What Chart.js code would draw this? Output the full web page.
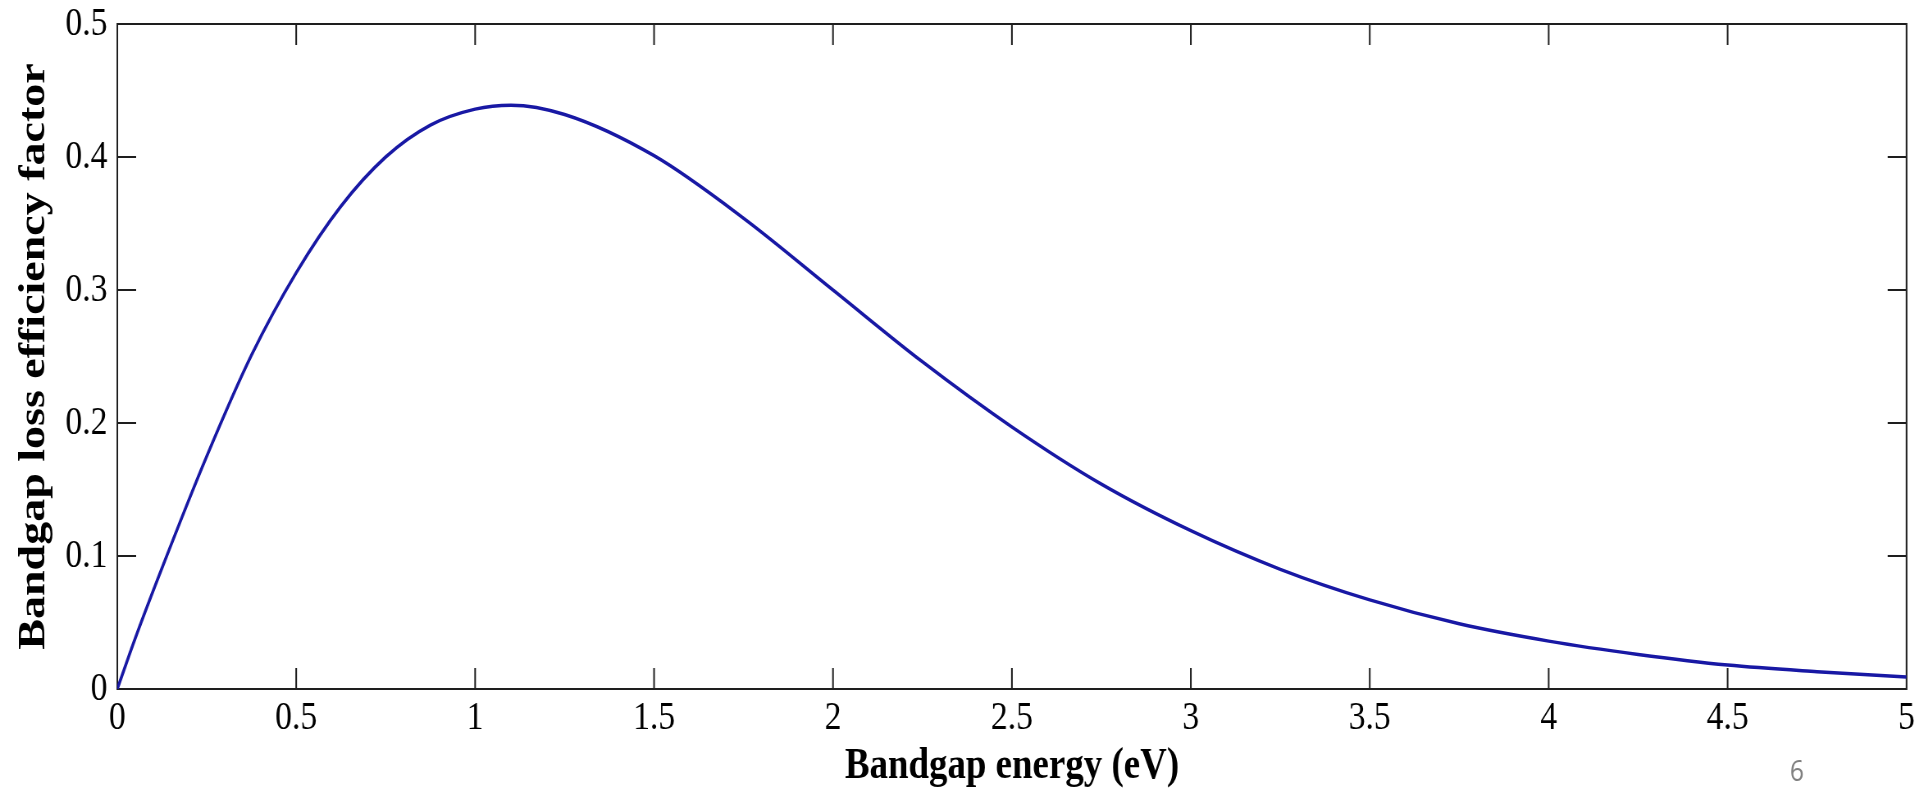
<!DOCTYPE html>
<html>
<head>
<meta charset="utf-8">
<script src="https://cdn.jsdelivr.net/npm/chart.js@4.4.1/dist/chart.umd.min.js"></script>
<style>
  html, body { margin: 0; padding: 0; background: #ffffff; overflow: hidden; }
  #wrap { width: 1915px; height: 797px; overflow: hidden; position: relative; }
  #c { display: block; transform: scaleX(0.8201); transform-origin: 0 0; }
</style>
</head>
<body>
<div id="wrap"><canvas id="c" width="2335" height="797" style="width:2335px;height:797px"></canvas></div>
<script>
// ---- data ----
const energy = [0, 0.05, 0.125, 0.25, 0.375, 0.5, 0.625, 0.75, 0.875, 1.0, 1.1, 1.25, 1.5, 1.75, 2.0, 2.25, 2.5, 2.75, 3.0, 3.25, 3.5, 3.75, 4.0, 4.25, 4.5, 4.75, 5.0];
const lossFactor = [0, 0.038, 0.091, 0.175, 0.251, 0.313, 0.363, 0.400, 0.424, 0.436, 0.439, 0.432, 0.401, 0.354, 0.300, 0.246, 0.197, 0.154, 0.119, 0.090, 0.067, 0.049, 0.036, 0.026, 0.018, 0.013, 0.009];
const xTickValues = [0, 0.5, 1, 1.5, 2, 2.5, 3, 3.5, 4, 4.5, 5];
const xTickLabels = ['0', '0.5', '1', '1.5', '2', '2.5', '3', '3.5', '4', '4.5', '5'];
const yTickValues = [0, 0.1, 0.2, 0.3, 0.4, 0.5];
const yTickLabels = ['0', '0.1', '0.2', '0.3', '0.4', '0.5'];
const xTitle = 'Bandgap energy (eV)';
const yTitle = 'Bandgap loss efficiency factor';
const pageNumber = '6';

const SCALE_X = 0.8201;
const serif = "'Liberation Serif', 'Times New Roman', serif";

const points = energy.map((e, i) => ({ x: e, y: lossFactor[i] }));

const framePlugin = {
  id: 'frame',
  beforeDatasetsDraw(chart) {
    const { ctx, chartArea: { left, right, top, bottom }, scales: { x, y } } = chart;
    ctx.save();
    ctx.strokeStyle = '#1e1e1e';
    ctx.lineWidth = 2;
    ctx.beginPath();
    ctx.rect(left, top, right - left, bottom - top);
    x.ticks.forEach(t => {
      const px = x.getPixelForValue(t.value);
      ctx.moveTo(px, bottom); ctx.lineTo(px, bottom - 21);
      ctx.moveTo(px, top); ctx.lineTo(px, top + 21);
    });
    y.ticks.forEach(t => {
      const py = y.getPixelForValue(t.value);
      ctx.moveTo(left, py); ctx.lineTo(left + 23, py);
      ctx.moveTo(right, py); ctx.lineTo(right - 23, py);
    });
    ctx.stroke();
    ctx.restore();
  },
  afterDraw(chart) {
    const { ctx } = chart;
    ctx.save();
    ctx.fillStyle = '#808080';
    ctx.font = "30px 'Open Sans', 'Liberation Sans', sans-serif";
    ctx.textAlign = 'center';
    ctx.textBaseline = 'middle';
    ctx.fillText(pageNumber, 1797 / SCALE_X, 772);
    ctx.restore();
  }
};

new Chart(document.getElementById('c'), {
  type: 'line',
  data: {
    datasets: [{
      data: points,
      borderColor: '#1818a4',
      borderWidth: 3.5,
      pointRadius: 0,
      fill: false,
      cubicInterpolationMode: 'monotone'
    }]
  },
  options: {
    responsive: false,
    animation: false,
    devicePixelRatio: 1,
    layout: { padding: { top: 24, right: 10, bottom: 0, left: 0 } },
    plugins: { legend: { display: false }, tooltip: { enabled: false } },
    scales: {
      x: {
        type: 'linear',
        min: 0, max: 5,
        grid: { display: false, drawTicks: true, tickLength: 7 },
        border: { display: false },
        afterBuildTicks: s => { s.ticks = xTickValues.map(v => ({ value: v })); },
        afterFit: s => { s.height = 108; },
        ticks: {
          color: '#000',
          padding: 0,
          maxRotation: 0,
          autoSkip: false,
          font: { family: serif, size: 41, lineHeight: 1.1 },
          callback: (v) => { const i = xTickValues.indexOf(v); return i >= 0 ? xTickLabels[i] : ''; }
        },
        title: {
          display: true,
          text: xTitle,
          color: '#000',
          font: { family: serif, size: 45, weight: 'bold' },
          padding: { top: 0, bottom: 4 }
        }
      },
      y: {
        type: 'linear',
        min: 0, max: 0.5,
        grid: { display: false, drawTicks: true, tickLength: 12 },
        border: { display: false },
        afterBuildTicks: s => { s.ticks = yTickValues.map(v => ({ value: v })); },
        afterFit: s => { s.width = 143; },
        ticks: {
          color: '#000',
          padding: 0,
          autoSkip: false,
          font: { family: serif, size: 41, lineHeight: 1.1 },
          callback: (v) => { const i = yTickValues.findIndex(t => Math.abs(t - v) < 1e-9); return i >= 0 ? yTickLabels[i] : ''; }
        },
        title: {
          display: true,
          text: yTitle,
          color: '#000',
          font: { family: serif, size: 46, weight: 'bold' },
          padding: { top: 15, bottom: 0 }
        }
      }
    }
  },
  plugins: [framePlugin]
});
</script>
</body>
</html>
